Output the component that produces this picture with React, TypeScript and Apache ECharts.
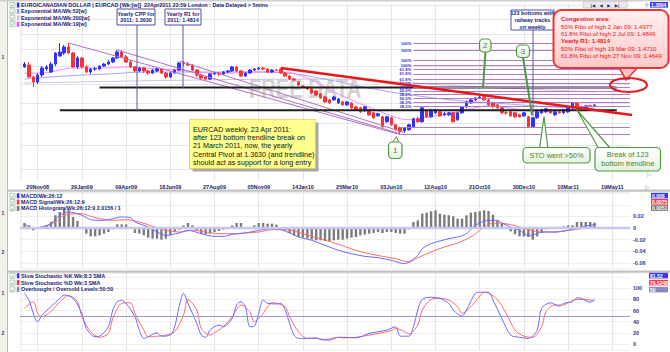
import React, { useEffect, useRef } from "react";
import * as echarts from "echarts";

// ---------- axis categories (weekly bars, Thursdays) ----------
const MONTHS = ["Jan", "Feb", "Mar", "Apr", "May", "Jun", "Jul", "Aug", "Sep", "Oct", "Nov", "Dec"];
const WEEK_MS = 7 * 86400000;
const START_UTC = Date.UTC(2008, 9, 23);
const WEEK_COUNT = 139;
const pad2 = (n: number) => (n < 10 ? "0" : "") + n;
const weeks: string[] = [];
for (let k = 0; k < WEEK_COUNT; k++) {
  const d = new Date(START_UTC + k * WEEK_MS);
  weeks.push(pad2(d.getUTCDate()) + MONTHS[d.getUTCMonth()] + pad2(d.getUTCFullYear() % 100));
}
const tickLabels = ["20Nov08", "29Jan09", "09Apr09", "18Jun09", "27Aug09", "05Nov09", "14Jan10", "25Mar10", "03Jun10", "12Aug10", "21Oct10", "30Dec10", "10Mar11", "19May11"];
const tickSet = new Set(tickLabels);
const FIRST_WEEK = 1; // 30Oct08

// ---------- EURCAD weekly OHLC: [open, close, low, high] ----------
const ohlc: number[][] = [
  [1.596, 1.613, 1.590, 1.625], [1.607, 1.539, 1.533, 1.625], [1.539, 1.511, 1.484, 1.544], [1.511, 1.550, 1.500, 1.561], [1.550, 1.590, 1.539, 1.601],
  [1.584, 1.596, 1.573, 1.607], [1.567, 1.613, 1.561, 1.625], [1.613, 1.679, 1.601, 1.685], [1.661, 1.685, 1.655, 1.741], [1.679, 1.716, 1.667, 1.729],
  [1.716, 1.679, 1.673, 1.741], [1.679, 1.596, 1.590, 1.685], [1.596, 1.649, 1.584, 1.661], [1.649, 1.596, 1.590, 1.655], [1.596, 1.567, 1.561, 1.607],
  [1.567, 1.584, 1.556, 1.590], [1.584, 1.585, 1.573, 1.596], [1.584, 1.601, 1.578, 1.607], [1.601, 1.613, 1.596, 1.619], [1.613, 1.625, 1.607, 1.637],
  [1.625, 1.649, 1.619, 1.655], [1.649, 1.685, 1.643, 1.697], [1.685, 1.655, 1.649, 1.697], [1.655, 1.625, 1.619, 1.667], [1.625, 1.596, 1.590, 1.637],
  [1.596, 1.573, 1.567, 1.601], [1.573, 1.590, 1.567, 1.596], [1.590, 1.573, 1.561, 1.596], [1.573, 1.561, 1.550, 1.578], [1.561, 1.578, 1.556, 1.584],
  [1.573, 1.584, 1.567, 1.590], [1.584, 1.561, 1.556, 1.590], [1.561, 1.539, 1.527, 1.567], [1.539, 1.561, 1.533, 1.567], [1.561, 1.578, 1.556, 1.584],
  [1.578, 1.619, 1.573, 1.625], [1.619, 1.617, 1.601, 1.631], [1.613, 1.607, 1.601, 1.625], [1.607, 1.578, 1.573, 1.613], [1.578, 1.550, 1.539, 1.584],
  [1.550, 1.533, 1.522, 1.556], [1.539, 1.527, 1.522, 1.544], [1.527, 1.556, 1.522, 1.561], [1.556, 1.561, 1.550, 1.567], [1.561, 1.556, 1.544, 1.567],
  [1.556, 1.567, 1.550, 1.573], [1.567, 1.573, 1.561, 1.578], [1.573, 1.596, 1.567, 1.601], [1.596, 1.573, 1.567, 1.601], [1.573, 1.544, 1.539, 1.578],
  [1.544, 1.561, 1.539, 1.567], [1.561, 1.578, 1.556, 1.584], [1.578, 1.584, 1.573, 1.590], [1.584, 1.590, 1.578, 1.596], [1.590, 1.584, 1.578, 1.596],
  [1.584, 1.567, 1.561, 1.590], [1.567, 1.578, 1.561, 1.584], [1.578, 1.577, 1.573, 1.584], [1.584, 1.561, 1.556, 1.590], [1.561, 1.544, 1.539, 1.567],
  [1.544, 1.527, 1.522, 1.550], [1.527, 1.522, 1.516, 1.533], [1.511, 1.4945, 1.489, 1.516], [1.489, 1.484, 1.478, 1.4945], [1.484, 1.473, 1.468, 1.489],
  [1.473, 1.452, 1.447, 1.478], [1.4626, 1.4417, 1.4365, 1.468], [1.447, 1.426, 1.421, 1.452], [1.431, 1.4056, 1.4005, 1.4365], [1.4158, 1.4005, 1.3954, 1.4209],
  [1.4158, 1.431, 1.4107, 1.4365], [1.4005, 1.4209, 1.3954, 1.426], [1.4056, 1.3904, 1.3854, 1.4107], [1.3904, 1.4056, 1.3854, 1.4107], [1.4005, 1.3754, 1.3704, 1.4056],
  [1.3803, 1.3654, 1.3605, 1.3854], [1.3754, 1.3556, 1.3507, 1.3803], [1.3605, 1.3803, 1.3556, 1.3854], [1.3654, 1.341, 1.3361, 1.3704], [1.3507, 1.3266, 1.3218, 1.3556],
  [1.3361, 1.3458, 1.3313, 1.3507], [1.3313, 1.2842, 1.2796, 1.3361], [1.3076, 1.3313, 1.3029, 1.3361], [1.3266, 1.2935, 1.2888, 1.3313], [1.2935, 1.2705, 1.266, 1.2982],
  [1.2796, 1.2614, 1.248, 1.2842], [1.266, 1.2796, 1.2569, 1.2842], [1.2705, 1.2935, 1.266, 1.2982], [1.2842, 1.3218, 1.2796, 1.3266], [1.3218, 1.3076, 1.3029, 1.3313],
  [1.3076, 1.3754, 1.3029, 1.3803], [1.3605, 1.3313, 1.3266, 1.3654], [1.3313, 1.3654, 1.3266, 1.3704], [1.3507, 1.3654, 1.3458, 1.3704], [1.3556, 1.3361, 1.3313, 1.3605],
  [1.341, 1.3458, 1.3361, 1.3556], [1.341, 1.3507, 1.3361, 1.3556], [1.3507, 1.3076, 1.3029, 1.3556], [1.317, 1.3507, 1.3123, 1.3556], [1.3507, 1.3803, 1.3458, 1.3854],
  [1.3803, 1.4056, 1.3754, 1.4107], [1.4005, 1.4158, 1.3954, 1.4209], [1.4158, 1.426, 1.4107, 1.431], [1.426, 1.431, 1.4209, 1.4365], [1.431, 1.4158, 1.4107, 1.4365],
  [1.4158, 1.3904, 1.3854, 1.4209], [1.4005, 1.3803, 1.3754, 1.4056], [1.3904, 1.3754, 1.3704, 1.3954], [1.3754, 1.3507, 1.3458, 1.3803], [1.3507, 1.3505, 1.341, 1.3605],
  [1.3556, 1.3361, 1.3313, 1.3605], [1.3507, 1.3313, 1.3266, 1.3556], [1.341, 1.3313, 1.3266, 1.3458], [1.3361, 1.3507, 1.3313, 1.3556], [1.3313, 1.2842, 1.2796, 1.3361],
  [1.2842, 1.3266, 1.2796, 1.3313], [1.3266, 1.3556, 1.3218, 1.3605], [1.3507, 1.3654, 1.3458, 1.3704], [1.3556, 1.3704, 1.3507, 1.3754], [1.3654, 1.3507, 1.3458, 1.3704],
  [1.341, 1.3556, 1.3361, 1.3605], [1.3556, 1.3507, 1.3458, 1.3605], [1.3507, 1.3654, 1.3458, 1.3704], [1.3556, 1.3754, 1.3507, 1.3803], [1.3754, 1.4005, 1.3704, 1.4056],
  [1.4005, 1.3803, 1.3754, 1.4056], [1.3754, 1.3803, 1.3704, 1.3854], [1.3754, 1.3854, 1.3704, 1.3904], [1.3854, 1.385, 1.3803, 1.3904], [1.3854, 1.3894, 1.3803, 1.3954],
];

// ---------- moving averages: [week, price] ----------
const ema19 = [[1, 1.561], [5, 1.561], [9, 1.578], [12, 1.59], [16, 1.59], [20, 1.59], [24, 1.596], [28, 1.59], [32, 1.584], [36, 1.578], [40, 1.567], [44, 1.561], [48, 1.561], [52, 1.567], [56, 1.567], [60, 1.567], [63, 1.55], [66, 1.522], [69, 1.484], [72, 1.447], [76, 1.4056], [80, 1.3704], [84, 1.3361], [88, 1.317], [91, 1.3266], [94, 1.3361], [97, 1.3458], [100, 1.3605], [103, 1.3754], [106, 1.3854], [109, 1.3803], [112, 1.3704], [115, 1.3605], [118, 1.3556], [121, 1.3605], [124, 1.3654], [127, 1.3754], [130, 1.3803]];
const ema52 = [[1, 1.527], [10, 1.544], [20, 1.556], [30, 1.567], [40, 1.567], [50, 1.567], [60, 1.561], [70, 1.522], [80, 1.473], [90, 1.4365], [100, 1.4107], [110, 1.3954], [120, 1.3803], [130, 1.3704]];
const ema200 = [[1, 1.5055], [40, 1.522], [70, 1.527], [100, 1.489], [130, 1.457]];

// ---------- drawn annotations (price coordinates) ----------
const railA = [[11, 1.741], [86, 1.248]];
const railB = [[22, 1.697], [86, 1.252]];
const railC = [[36, 1.631], [87, 1.257]];
const redTrend = [[59, 1.59], [145, 1.321]];
const lineR1 = [[18, 1.4814], [135, 1.4814]];
const lineCPP = [[9, 1.363], [135, 1.363]];
const fibLevels = [1.741, 1.693, 1.633, 1.605, 1.583, 1.556, 1.527, 1.5055, 1.4837, 1.4634, 1.4433, 1.4235, 1.4039, 1.3847];
const fibNames = ["100%", "100%", "100%", "100%", "61.8%", "61.8%", "61.8%", "50.0%", "61.8%", "50.0%", "38.2%", "50.0%", "38.2%", "38.2%"];
const fibLow = [1.284, 1.248];
const FIB_FROM = 89;
const FIB_TO = 138;
const priceGrid = [1.1, 1.2, 1.3, 1.4, 1.5, 1.6, 1.7, 1.8, 1.9, 2.0];
const priceLabels = [1.2, 1.3, 1.4, 1.5];

// ---------- MACD ----------
const macdHist = [
  0.0086, 0.0046, -0.004, 0.0017, 0.0029, 0.0046, 0.0104, 0.0219, 0.0276, 0.0334,
  0.0316, 0.019, 0.0121, 0.0017, -0.0098, -0.0144, -0.0144, -0.0127, -0.0098, -0.0069,
  -0.0023, 0.0063, 0.0063, 0.0063, 0.0005, -0.0086, -0.0098, -0.0127, -0.0167, -0.0184,
  -0.0184, -0.0201, -0.0184, -0.0127, -0.0069, -0.0029, 0.0046, 0.0086, 0.0046, -0.004,
  -0.0098, -0.0109, -0.0098, -0.0069, -0.0052, -0.0029, 0.0003, 0.0046, 0.0086, 0.0086,
  0.0017, 0.0005, 0.0046, 0.0086, 0.0086, 0.0075, 0.0075, 0.0058, 0.0017, -0.004,
  -0.0086, -0.0127, -0.0155, -0.0167, -0.0184, -0.0201, -0.0213, -0.0213, -0.0224, -0.0224,
  -0.0213, -0.0201, -0.0201, -0.0184, -0.0167, -0.0155, -0.0127, -0.0115, -0.0098, -0.0086,
  -0.0069, -0.0086, -0.0069, -0.0069, -0.0086, -0.0098, -0.0098, -0.0023, 0.0104, 0.0132,
  0.0247, 0.0265, 0.0288, 0.0305, 0.0247, 0.023, 0.0219, 0.0201, 0.0161, 0.0161,
  0.0219, 0.0265, 0.0276, 0.0288, 0.0305, 0.0293, 0.023, 0.0132, 0.0075, 0.0017,
  -0.0058, -0.0109, -0.0144, -0.0144, -0.0155, -0.0201, -0.0144, -0.0086, -0.0023, 0.0005,
  0.0005, 0.0017, 0.0029, 0.0046, 0.0046, 0.0104, 0.0104, 0.0104, 0.0104, 0.0092,
];
const macdLine = [[1, 0.0075], [3, -0.0012], [5, 0.0017], [7, 0.0075], [9, 0.0219], [11, 0.0276], [14, 0.0219], [16, 0.0144], [18, 0.0132], [20, 0.0144], [23, 0.019], [25, 0.0178], [26, 0.0104], [29, 0.0017], [31, -0.0069], [33, -0.0127], [36, -0.0086], [38, -0.004], [41, -0.0098], [44, -0.0144], [46, -0.0144], [48, -0.0109], [51, -0.0086], [54, -0.004], [57, -0.0012], [59, -0.0029], [61, -0.0086], [63, -0.0155], [66, -0.0213], [68, -0.027], [70, -0.0328], [72, -0.0385], [75, -0.0443], [78, -0.0489], [81, -0.0512], [84, -0.0558], [87, -0.0615], [88, -0.0587], [90, -0.0472], [91, -0.0357], [93, -0.027], [95, -0.0224], [97, -0.0184], [99, -0.0155], [101, -0.0098], [103, 0.0046], [106, 0.0132], [108, 0.0132], [109, 0.0086], [111, 0.0017], [113, -0.004], [115, -0.0127], [117, -0.0098], [118, -0.0069], [121, -0.0069], [124, -0.004], [127, 0.0017], [130, 0.0063]];
const macdSignal = [[1, 0.0017], [3, 0], [5, 0.0017], [8, 0.0104], [10, 0.0219], [14, 0.0247], [16, 0.0201], [18, 0.0161], [21, 0.0132], [24, 0.0144], [27, 0.0104], [30, 0.0029], [33, -0.004], [36, -0.0069], [39, -0.004], [42, -0.0069], [45, -0.0098], [48, -0.0098], [51, -0.0086], [54, -0.0069], [57, -0.0029], [60, -0.0029], [62, -0.0052], [64, -0.0098], [66, -0.0144], [69, -0.021], [72, -0.028], [76, -0.0385], [79, -0.0443], [82, -0.0489], [85, -0.0529], [88, -0.0587], [90, -0.0512], [93, -0.0414], [96, -0.0328], [99, -0.0259], [102, -0.0155], [104, -0.004], [106, 0.0063], [108, 0.0086], [111, 0.0058], [113, 0.0017], [115, -0.0029], [118, -0.0069], [121, -0.0069], [124, -0.004], [127, -0.0012], [130, 0.0029]];

// ---------- Slow stochastic ----------
const stochK = [[1, 91], [2, 79], [4, 40], [5, 52], [7, 67], [9, 82], [10, 88], [12, 82], [14, 55], [15, 28], [17, 13], [18, 14], [20, 31], [21, 61], [22, 76], [23, 78], [24, 73], [26, 49], [27, 25], [28, 10], [29, 13], [31, 20], [32, 14], [34, 16], [35, 31], [36, 67], [37, 91], [38, 73], [40, 37], [41, 16], [42, 12], [43, 25], [45, 34], [46, 31], [48, 46], [49, 70], [50, 76], [51, 67], [52, 31], [53, 32], [54, 55], [55, 79], [56, 73], [58, 72], [59, 73], [60, 61], [61, 37], [62, 16], [63, 10], [65, 10], [67, 11], [68, 8], [70, 7], [72, 12], [73, 12], [76, 11], [79, 19], [81, 22], [83, 25], [85, 31], [86, 14], [88, 14], [89, 31], [90, 61], [91, 80], [93, 84], [95, 82], [97, 73], [98, 61], [100, 50], [101, 61], [103, 91], [104, 93], [106, 93], [107, 79], [109, 46], [111, 16], [113, 12], [115, 10], [117, 25], [118, 64], [120, 74], [122, 68], [123, 73], [125, 76], [126, 83], [127, 82], [129, 75], [130, 81.5]];
const stochD = [[1, 64], [3, 76], [4, 55], [5, 49], [7, 58], [9, 76], [11, 87], [13, 76], [14, 49], [16, 22], [18, 12], [20, 19], [21, 46], [23, 73], [25, 74], [26, 55], [28, 25], [29, 13], [31, 14], [33, 16], [35, 22], [37, 52], [38, 80], [40, 61], [41, 28], [43, 16], [44, 20], [46, 31], [48, 49], [50, 70], [52, 58], [53, 40], [55, 55], [57, 74], [58, 73], [60, 67], [61, 49], [63, 22], [65, 10], [67, 10], [69, 8], [72, 12], [73, 11], [76, 12], [79, 16], [81, 19], [84, 24], [85, 28], [87, 22], [88, 18], [90, 34], [91, 61], [93, 80], [95, 82], [97, 79], [99, 67], [100, 55], [102, 67], [104, 86], [105, 93], [106, 91], [108, 80], [110, 55], [112, 25], [114, 14], [116, 12], [118, 31], [119, 58], [121, 70], [123, 70], [124, 74], [126, 80], [128, 80], [130, 76.5]];
const stochLevel = 50;

// ---------- texts ----------
const priceLegend = [
  { color: "#3333ff", text: "EURO/CANADIAN DOLLAR | EURCAD [Wk:[w]]  22Apr2011 23:59 London : Data Delayed > 5mins" },
  { color: "#9a9aff", text: "Exponential MA/Wk:52[w]" },
  { color: "#c4c4e4", text: "Exponential MA/Wk:200[w]" },
  { color: "#ff44ff", text: "Exponential MA/Wk:19[w]" },
];
const macdLegend = [
  { color: "#3333ff", text: "MACD/Wk:26:12" },
  { color: "#ff3333", text: "MACD Signal/Wk:26:12:9" },
  { color: "#777777", text: "MACD Histogram/Wk:26:12:9 2.0156 / 1" },
];
const stochLegend = [
  { color: "#3333ff", text: "Slow Stochastic %K Wk:8:3 SMA" },
  { color: "#ff3333", text: "Slow Stochastic %D Wk:3 SMA" },
  { color: "#8888bb", text: "Overbought / Oversold Levels:50:50" },
];
const noteLines = [
  "EURCAD weekly, 23 Apr 2011:",
  "after 123 bottom trendline break on",
  "21 March 2011, now, the yearly",
  "Central Pivot at 1.3630 (and trendline)",
  "should act as support for a long entry",
];
const congestionLines = [
  { text: "Congestion area:", bold: true },
  { text: "50% Fibo of high 2 Jan 09: 1.4977", bold: false },
  { text: "61.8% Fibo of high 2 Jul 09: 1.4849", bold: false },
  { text: "Yearly R1: 1.4814", bold: true },
  { text: "50% Fibo of high 19 Mar 09: 1.4710", bold: false },
  { text: "61.8% Fibo of high 27 Nov 09: 1.4649", bold: false },
];

const FONT = "Liberation Sans";
const NAVY = "#1a1a70";
const GREEN = "#4f9a3f";
const GREEN_TXT = "#3a8a2a";

function txt(x: number, y: number, text: string, o: any = {}) {
  const align = o.align || "left";
  const valign = o.valign || "middle";
  return {
    type: "text", x, y, z: o.z || 110, silent: true,
    scaleX: o.scaleX || 1,
    style: {
      text, fill: o.fill || NAVY, fontSize: o.size || 5.5, fontWeight: o.weight || "bold",
      fontFamily: o.family || FONT, textAlign: align, align, textVerticalAlign: valign, verticalAlign: valign,
      lineHeight: o.lh,
    },
  };
}

function legend(y0: number, step: number, rows: { color: string; text: string }[]) {
  const els: any[] = [];
  rows.forEach((r, k) => {
    const y = y0 + k * step;
    els.push({ type: "rect", z: 110, silent: true, shape: { x: 10, y: y - 2.5, width: 5, height: 5 }, style: { fill: "#ffffff", stroke: "#8aa08a", lineWidth: 0.6 } });
    els.push(txt(10.6, y + 0.2, "✓", { fill: "#22a022", size: 5, family: "DejaVu Sans" }));
    els.push({ type: "rect", z: 110, silent: true, shape: { x: 16.8, y: y - 2.5, width: 2.6, height: 5 }, style: { fill: r.color } });
    els.push(txt(21, y, r.text, { size: 5.4 }));
  });
  return els;
}

function infoBox(x: number, y: number, w: number, h: number, text: string) {
  return [
    { type: "rect", z: 108, silent: true, shape: { x, y, width: w, height: h }, style: { fill: "#ffffff", stroke: "#5050a8", lineWidth: 1 } },
    txt(x + w / 2, y + h / 2, text, { align: "center", size: 5.4, lh: 6.6 }),
  ];
}

function greenBox(x: number, y: number, w: number, h: number, text: string, size: number, lh?: number) {
  return [
    {
      type: "rect", z: 112, silent: true, shape: { x, y, width: w, height: h, r: 4 },
      style: {
        fill: new echarts.graphic.LinearGradient(0, 0, 0, 1, [{ offset: 0, color: "#ffffff" }, { offset: 1, color: "#e6f0e0" }]),
        stroke: GREEN, lineWidth: 1.2,
      },
    },
    txt(x + w / 2, y + h / 2, text, { align: "center", size, weight: "normal", fill: GREEN_TXT, lh, z: 113 }),
  ];
}

function tag(x: number, y: number, w: number, fill: string, text: string) {
  return [
    { type: "rect", z: 110, silent: true, shape: { x, y, width: w, height: 5.6 }, style: { fill } },
    txt(x + 1, y + 2.9, text, { fill: "#ffffff", size: 5 }),
  ];
}

function buildGraphic() {
  const els: any[] = [];
  // frame
  els.push({ type: "rect", z: 105, silent: true, shape: { x: 0, y: 0, width: 7, height: 352 }, style: { fill: "#f1f1ec" } });
  els.push({ type: "line", z: 105, silent: true, shape: { x1: 7.5, y1: 0, x2: 7.5, y2: 352 }, style: { stroke: "#b8b8b8", lineWidth: 1 } });
  els.push({ type: "rect", z: 105, silent: true, shape: { x: 0, y: 0, width: 670, height: 1.6 }, style: { fill: "#cfcfcf" } });
  els.push({ type: "rect", z: 105, silent: true, shape: { x: 7, y: 189.5, width: 663, height: 2.2 }, style: { fill: "#c2c2c2" } });
  els.push({ type: "rect", z: 105, silent: true, shape: { x: 7, y: 270.5, width: 663, height: 2.2 }, style: { fill: "#c2c2c2" } });
  els.push({ type: "line", z: 1, silent: true, shape: { x1: 21, y1: 3, x2: 21, y2: 181 }, style: { stroke: "#e2e2e2", lineWidth: 1 } });
  els.push({ type: "line", z: 1, silent: true, shape: { x1: 21, y1: 192, x2: 21, y2: 268 }, style: { stroke: "#e2e2e2", lineWidth: 1 } });
  els.push({ type: "line", z: 1, silent: true, shape: { x1: 21, y1: 273, x2: 21, y2: 350 }, style: { stroke: "#e2e2e2", lineWidth: 1 } });
  // pane markers
  els.push(txt(3, 57, "1", { size: 5, fill: "#333366", align: "center" }));
  els.push(txt(3, 213, "1", { size: 5, fill: "#333366", align: "center" }));
  els.push(txt(3, 252, "2", { size: 5, fill: "#333366", align: "center" }));
  els.push(txt(3, 293, "1", { size: 5, fill: "#333366", align: "center" }));
  els.push(txt(3, 333, "2", { size: 5, fill: "#333366", align: "center" }));
  els.push(txt(647, 173, "▷", { size: 6, fill: "#909090", family: "DejaVu Sans", weight: "normal" }));
  els.push(txt(645, 186, "▷", { size: 6, fill: "#909090", family: "DejaVu Sans", weight: "normal" }));

  // watermark
  els.push(txt(249, 88, "FREE DATA", { size: 28, fill: "#d2d2d2", weight: "bold", scaleX: 0.72, z: 1 }));

  // legends
  els.push(...legend(5, 6.4, priceLegend));
  els.push(...legend(195.8, 6.3, macdLegend));
  els.push(...legend(275.8, 6.8, stochLegend));

  // info boxes with their vertical lines
  els.push({ type: "line", z: 107, silent: true, shape: { x1: 137, y1: 25, x2: 137, y2: 111.5 }, style: { stroke: "#5a5aa8", lineWidth: 1 } });
  els.push({ type: "line", z: 107, silent: true, shape: { x1: 183, y1: 25, x2: 183, y2: 88 }, style: { stroke: "#5a5aa8", lineWidth: 1 } });
  els.push({ type: "line", z: 107, silent: true, shape: { x1: 533, y1: 30, x2: 533, y2: 116 }, style: { stroke: "#5a5aa8", lineWidth: 1 } });
  els.push(...infoBox(117, 9, 38, 16, "Yearly CPP for\n2011: 1.3630"));
  els.push(...infoBox(165, 9, 36, 16, "Yearly R1 for\n2011: 1.4814"));
  els.push(...infoBox(511, 10, 43, 20, "123 bottoms with\nrailway tracks\non weekly"));

  // yellow note
  els.push({ type: "rect", z: 106, silent: true, shape: { x: 192.5, y: 122.5, width: 126, height: 49 }, style: { fill: "#a8a8a8" } });
  els.push({ type: "rect", z: 107, silent: true, shape: { x: 189.5, y: 119.5, width: 126, height: 49 }, style: { fill: "#ffff8c", stroke: "#d8cf60", lineWidth: 0.8 } });
  noteLines.forEach((l, k) => els.push(txt(193, 129.4 + k * 8.2, l, { size: 7.2, weight: "normal", fill: "#111111", z: 108 })));

  // green callouts
  els.push({ type: "polygon", z: 111, silent: true, shape: { points: [[392, 143], [399, 143], [396.5, 136.5]] }, style: { fill: "#ffffff", stroke: GREEN, lineWidth: 1 } });
  els.push(...greenBox(388.5, 142, 13.5, 16.5, "1", 8));
  els.push({ type: "line", z: 111, silent: true, shape: { x1: 485.5, y1: 51, x2: 483, y2: 88 }, style: { stroke: GREEN, lineWidth: 2 } });
  els.push(...greenBox(479.5, 39, 11.5, 13, "2", 8));
  els.push({ type: "line", z: 111, silent: true, shape: { x1: 523, y1: 57, x2: 532, y2: 115 }, style: { stroke: GREEN, lineWidth: 2 } });
  els.push(...greenBox(516.5, 45, 13, 12.5, "3", 8));
  els.push({ type: "polygon", z: 111, silent: true, shape: { points: [[539.5, 149], [548, 149], [544, 116.5]] }, style: { fill: "#ffffff", stroke: GREEN, lineWidth: 1.2 } });
  els.push(...greenBox(523, 147.5, 67, 15.5, "STO went >50%", 7.4));
  els.push({ type: "polygon", z: 111, silent: true, shape: { points: [[599, 149], [611, 149], [577, 110]] }, style: { fill: "#ffffff", stroke: GREEN, lineWidth: 1.2 } });
  els.push(...greenBox(595, 147.5, 65.5, 23.5, "Break of 123\nbottom trendline", 7.4, 9.2));

  // red congestion callout
  els.push({ type: "polygon", z: 114, silent: true, shape: { points: [[617, 64], [641, 64], [626, 80]] }, style: { fill: "#ffc4c4", stroke: "#ee3333", lineWidth: 1.6 } });
  els.push({
    type: "rect", z: 115, silent: true, shape: { x: 553.5, y: 10, width: 115, height: 58, r: 8 },
    style: {
      fill: new echarts.graphic.LinearGradient(0, 0, 0, 1, [{ offset: 0, color: "#fff0f0" }, { offset: 1, color: "#ffcaca" }]),
      stroke: "#ee3333", lineWidth: 2,
    },
  });
  congestionLines.forEach((l, k) =>
    els.push(txt(561, 19.4 + k * 7.3, l.text, { size: 6.0, weight: l.bold ? "bold" : "normal", fill: "#e02020", z: 116 }))
  );
  els.push({ type: "ellipse", z: 117, silent: true, shape: { cx: 628.5, cy: 85, rx: 18.5, ry: 7 }, style: { fill: "none", stroke: "#e02020", lineWidth: 2 } });

  // navigation bar + last price tag
  els.push({ type: "rect", z: 110, silent: true, shape: { x: 583, y: 1.5, width: 44, height: 6.5 }, style: { fill: "#e9e9ef", stroke: "#b4b4c4", lineWidth: 0.5 } });
  els.push(txt(605, 5, "|◀   ◀   ▶   ▶|", { size: 4.2, align: "center", family: "DejaVu Sans", fill: "#2a2a5a" }));
  els.push(txt(645, 5, "⚲", { size: 5, family: "DejaVu Sans", fill: "#666666", weight: "normal" }));
  els.push(...tag(650, 2, 18, "#3a3aff", "1.3894"));
  els.push(...tag(651, 192.8, 17, "#3a3aff", "0.008"));
  els.push(...tag(651, 199, 17, "#ff3a3a", "0.0075"));
  els.push(...tag(651, 205.2, 17, "#707070", "0.0051"));
  els.push(...tag(649, 272.8, 19, "#3a3aff", "81.52"));
  els.push(...tag(649, 279.8, 19, "#ff3a3a", "76.5248"));
  els.push(...tag(649, 286.8, 19, "#8a8ac0", "50"));
  return els;
}

function lineSeries(data: number[][], color: string, width: number, extra: any = {}) {
  return {
    type: "line", xAxisIndex: 0, yAxisIndex: 0, data, showSymbol: false, silent: true,
    lineStyle: { color, width }, itemStyle: { color }, z: 4, ...extra,
  };
}

function buildOption() {
  const gridDefs = [
    { left: 20, right: 40, top: 3, height: 178 },
    { left: 20, right: 40, top: 192, height: 76 },
    { left: 20, right: 40, top: 273, height: 77 },
  ];
  const xAxes = gridDefs.map((_, g) => ({
    type: "category", gridIndex: g, data: weeks, boundaryGap: false, min: 0, max: WEEK_COUNT - 1,
    axisLine: { show: false }, axisTick: { show: false },
    axisLabel: g === 0 ? {
      show: true, interval: (_i: number, v: string) => tickSet.has(v),
      fontSize: 5.5, fontWeight: "bold", color: "#1a1a60", fontFamily: FONT, margin: 3,
    } : { show: false },
    splitLine: { show: true, interval: (_i: number, v: string) => tickSet.has(v), lineStyle: { color: "#e6e6e6", width: 1 } },
  }));
  const yLabel = { fontSize: 5.5, fontWeight: "bold", color: "#333399", fontFamily: FONT, margin: 3, showMinLabel: false, showMaxLabel: false };
  const yAxes = [
    {
      type: "log", logBase: 10, gridIndex: 0, min: 1.0542, max: 2.0138, position: "right",
      axisLine: { show: false }, axisTick: { show: false }, axisLabel: { show: false }, splitLine: { show: false },
    },
    {
      type: "value", gridIndex: 1, min: -0.069, max: 0.0621, splitNumber: 6, position: "right",
      axisLine: { show: false }, axisTick: { show: false },
      axisLabel: { ...yLabel, formatter: (v: number) => (v > 0.03 ? "" : Math.abs(v) < 1e-9 ? "0" : v.toFixed(2)) },
      splitLine: { show: true, lineStyle: { color: "#eeeeee" } },
    },
    {
      type: "value", gridIndex: 2, min: -10.8, max: 127.5, splitNumber: 7, position: "right",
      axisLine: { show: false }, axisTick: { show: false },
      axisLabel: { ...yLabel, formatter: (v: number) => (v > 100.5 || v < -0.5 ? "" : String(Math.round(v))) },
      splitLine: { show: true, lineStyle: { color: "#eeeeee" } },
    },
  ];

  const fibData: any[] = fibLevels.map((p, k) => [
    { name: fibNames[k], coord: [FIB_FROM, p] },
    { coord: [FIB_TO, p] },
  ]);
  fibLow.forEach((p) => fibData.push([
    { name: "", coord: [86, p], label: { show: false } },
    { coord: [FIB_TO, p] },
  ]));

  const series: any[] = [
    {
      type: "candlestick", name: "EURCAD", xAxisIndex: 0, yAxisIndex: 0, z: 3,
      data: ohlc.map((c, k) => [k + FIRST_WEEK, c[0], c[1], c[2], c[3]]),
      encode: { x: 0, y: [1, 2, 3, 4] },
      barWidth: 3,
      itemStyle: { color: "#3232ff", color0: "#ff3030", borderColor: "#3232ff", borderColor0: "#ff3030", borderWidth: 1 },
    },
    lineSeries(ema200, "#c6c6dc", 1, {
      smooth: 0.4, z: 2,
      markLine: {
        silent: true, symbol: ["none", "none"], z: 1, label: { show: false },
        lineStyle: { color: "#e6e6e6", width: 1, type: "solid" },
        data: priceGrid.map((v) => ({ yAxis: v })),
      },
    }),
    lineSeries(ema52, "#a4a4f4", 1, {
      smooth: 0.4, z: 2,
      markLine: {
        silent: true, symbol: ["none", "none"],
        lineStyle: { opacity: 0, width: 0 },
        label: {
          show: true, position: "end", distance: 2, fontSize: 5.5, fontWeight: "bold", color: "#3a3aaa", fontFamily: FONT,
          formatter: (p: any) => Number(p.value).toFixed(2),
        },
        data: priceLabels.map((v) => ({ yAxis: v })),
      },
    }),
    lineSeries(ema19, "#ff86ff", 1, {
      smooth: 0.4, z: 2,
      markLine: {
        silent: true, symbol: ["none", "none"],
        lineStyle: { color: "#b47cc8", width: 1, type: "solid" },
        label: { show: true, position: "start", distance: 2, formatter: "{b}", fontSize: 4.2, lineHeight: 4.2, fontWeight: "bold", color: "#3030d0", fontFamily: FONT },
        data: fibData,
      },
    }),
    lineSeries(railA, "#b070c4", 1),
    lineSeries(railB, "#b070c4", 1),
    lineSeries(railC, "#b070c4", 1),
    lineSeries(lineR1, "#1e1e1e", 2),
    lineSeries(lineCPP, "#1e1e1e", 2),
    lineSeries(redTrend, "#ee1414", 2.4, { clip: false, z: 5 }),
    {
      type: "bar", xAxisIndex: 1, yAxisIndex: 1, barWidth: 2.4, silent: true,
      data: macdHist.map((v, k) => [k + FIRST_WEEK, v]),
      itemStyle: { color: "#7c7c7c" },
      markLine: { silent: true, symbol: ["none", "none"], label: { show: false }, lineStyle: { color: "#c6c6ee", width: 2.4, type: "solid" }, data: [{ yAxis: 0 }] },
    },
    { type: "line", xAxisIndex: 1, yAxisIndex: 1, data: macdSignal, showSymbol: false, smooth: 0.3, silent: true, lineStyle: { color: "#ff6a6a", width: 1 }, z: 4 },
    { type: "line", xAxisIndex: 1, yAxisIndex: 1, data: macdLine, showSymbol: false, smooth: 0.3, silent: true, lineStyle: { color: "#6a6aff", width: 1 }, z: 4 },
    {
      type: "line", xAxisIndex: 2, yAxisIndex: 2, data: stochD, showSymbol: false, smooth: 0.3, silent: true, lineStyle: { color: "#ff6a6a", width: 1 }, z: 4,
      markLine: { silent: true, symbol: ["none", "none"], label: { show: false }, lineStyle: { color: "#9a9ad6", width: 1, type: "solid" }, data: [{ yAxis: stochLevel }] },
    },
    { type: "line", xAxisIndex: 2, yAxisIndex: 2, data: stochK, showSymbol: false, smooth: 0.3, silent: true, lineStyle: { color: "#6a6aff", width: 1 }, z: 4 },
  ];

  return {
    animation: false,
    backgroundColor: "#ffffff",
    textStyle: { fontFamily: FONT },
    grid: gridDefs,
    xAxis: xAxes,
    yAxis: yAxes,
    series,
    graphic: buildGraphic(),
  };
}

export default function App() {
  const ref = useRef<HTMLDivElement | null>(null);
  useEffect(() => {
    if (!ref.current) return;
    const chart = echarts.init(ref.current, undefined, { renderer: "svg" });
    chart.setOption(buildOption() as any);
    return () => chart.dispose();
  }, []);
  return (
    <div style={{ position: "fixed", left: 0, top: 0, width: 670, height: 352, background: "#ffffff" }}>
      <div ref={ref} style={{ width: 670, height: 352 }} />
    </div>
  );
}
